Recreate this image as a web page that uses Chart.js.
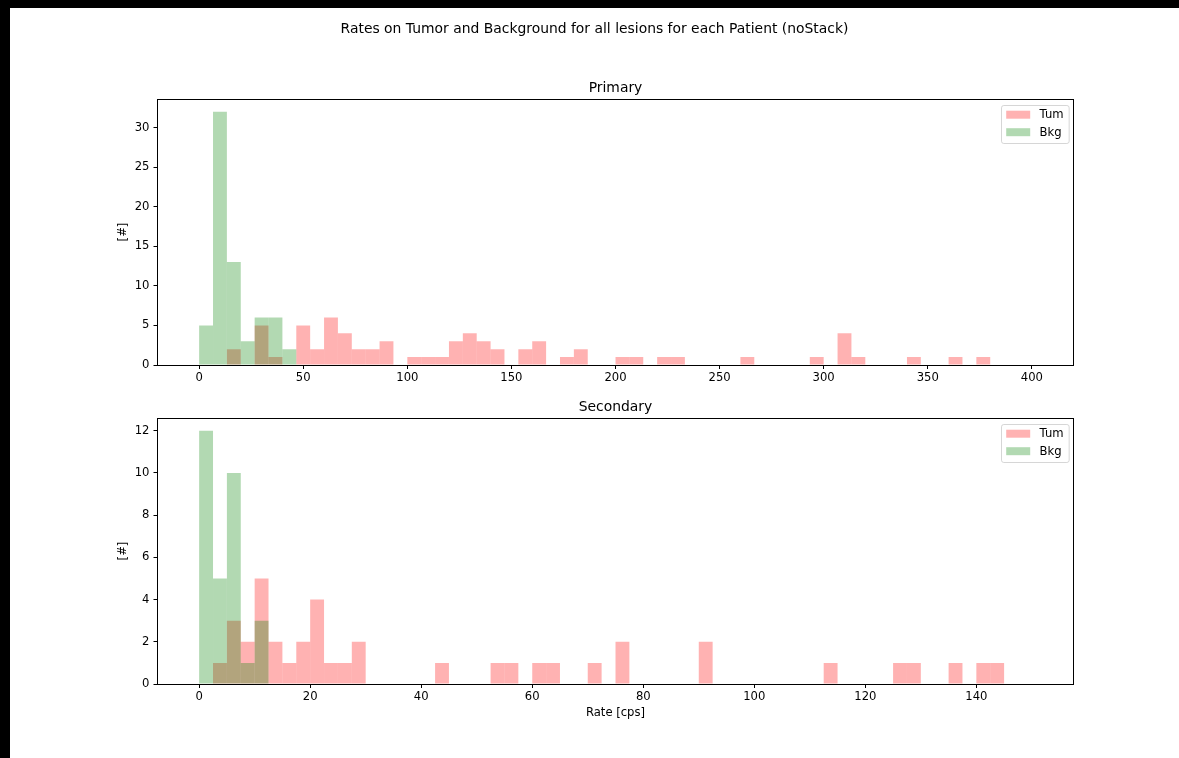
<!DOCTYPE html>
<html>
<head>
<meta charset="utf-8">
<title>Rates on Tumor and Background</title>
<script src="https://cdn.jsdelivr.net/npm/chart.js@4.4.0/dist/chart.umd.min.js"></script>
<style>
  html, body { margin: 0; padding: 0; background: #000; width: 1179px; height: 758px; overflow: hidden; }
  #sheet { position: absolute; left: 10px; top: 8px; right: 0; bottom: 0; background: #fff; }
  canvas { position: absolute; left: 0; }
  #primary { top: 0; }
  #secondary { top: 395px; }
</style>
</head>
<body>
<div id="sheet"></div>
<canvas id="primary" width="1179" height="395"></canvas>
<canvas id="secondary" width="1179" height="363"></canvas>
<script>
// ---- text ----
const figureTitle = 'Rates on Tumor and Background for all lesions for each Patient (noStack)';
const primaryTitle = 'Primary';
const secondaryTitle = 'Secondary';
const seriesNames = ['Tum', 'Bkg'];
const rateLabel = 'Rate [cps]';
const countLabel = '[#]';

// ---- histogram bins: 60 equal-width bins over each range ----
const binCount = 60;
const primaryRange = [0, 400];
const secondaryRange = [0, 150];

// ---- counts per bin, primary lesions ----
const primaryTum = [
  0, 0, 2, 0, 5, 1, 0, 5, 2, 6,
  4, 2, 2, 3, 0, 1, 1, 1, 3, 4,
  3, 2, 0, 2, 3, 0, 1, 2, 0, 0,
  1, 1, 0, 1, 1, 0, 0, 0, 0, 1,
  0, 0, 0, 0, 1, 0, 4, 1, 0, 0,
  0, 1, 0, 0, 1, 0, 1, 0, 0, 0
];
const primaryBkg = [
  5, 32, 13, 3, 6, 6, 2, 0, 0, 0,
  0, 0, 0, 0, 0, 0, 0, 0, 0, 0,
  0, 0, 0, 0, 0, 0, 0, 0, 0, 0,
  0, 0, 0, 0, 0, 0, 0, 0, 0, 0,
  0, 0, 0, 0, 0, 0, 0, 0, 0, 0,
  0, 0, 0, 0, 0, 0, 0, 0, 0, 0
];

// ---- counts per bin, secondary lesions ----
const secondaryTum = [
  0, 1, 3, 2, 5, 2, 1, 2, 4, 1,
  1, 2, 0, 0, 0, 0, 0, 1, 0, 0,
  0, 1, 1, 0, 1, 1, 0, 0, 1, 0,
  2, 0, 0, 0, 0, 0, 2, 0, 0, 0,
  0, 0, 0, 0, 0, 1, 0, 0, 0, 0,
  1, 1, 0, 0, 1, 0, 1, 1, 0, 0
];
const secondaryBkg = [
  12, 5, 10, 1, 3, 0, 0, 0, 0, 0,
  0, 0, 0, 0, 0, 0, 0, 0, 0, 0,
  0, 0, 0, 0, 0, 0, 0, 0, 0, 0,
  0, 0, 0, 0, 0, 0, 0, 0, 0, 0,
  0, 0, 0, 0, 0, 0, 0, 0, 0, 0,
  0, 0, 0, 0, 0, 0, 0, 0, 0, 0
];

// ---- tick labels ----
const primaryXTicks = [0, 50, 100, 150, 200, 250, 300, 350, 400];
const primaryYTicks = [0, 5, 10, 15, 20, 25, 30];
const secondaryXTicks = [0, 20, 40, 60, 80, 100, 120, 140];
const secondaryYTicks = [0, 2, 4, 6, 8, 10, 12];

// ---- styling ----
const FONT = 'DejaVu Sans';
const TICK_SIZE = 11.6;
const TITLE_SIZE = 13.9;
const TUM_COLOR = 'rgba(255, 0, 0, 0.3)';
const BKG_COLOR = 'rgba(0, 128, 0, 0.3)';

Chart.defaults.font.family = FONT;
Chart.defaults.color = '#000';

function binCenters([lo, hi]) {
  const w = (hi - lo) / binCount;
  return Array.from({ length: binCount }, (_, i) => lo + (i + 0.5) * w);
}

function histDataset(label, counts, range, color, order) {
  const centers = binCenters(range);
  return {
    label,
    data: counts.map((c, i) => ({ x: centers[i], y: c })),
    backgroundColor: color,
    borderWidth: 0,
    inflateAmount: 0,
    barPercentage: 1,
    categoryPercentage: 1,
    grouped: false,
    order
  };
}

// thin black box around the plotting area
const axesFrame = {
  id: 'axesFrame',
  afterDatasetsDraw(chart) {
    const { ctx, chartArea: a } = chart;
    const l = Math.floor(a.left) + 0.5, r = Math.floor(a.right) + 0.5;
    const t = Math.floor(a.top) + 0.5, b = Math.floor(a.bottom) + 0.5;
    ctx.save();
    ctx.strokeStyle = '#000';
    ctx.lineWidth = 1;
    ctx.strokeRect(l, t, r - l, b - t);
    ctx.restore();
  }
};

// framed legend in the upper-right corner of the plotting area
const cornerLegend = {
  id: 'cornerLegend',
  afterDraw(chart) {
    const { ctx, chartArea: a } = chart;
    const sets = chart.data.datasets;
    ctx.save();
    ctx.font = `${TICK_SIZE}px "${FONT}"`;
    const textW = Math.max(...sets.map(d => ctx.measureText(d.label).width));
    const padL = 4.7, handleW = 24, handleH = 8, gap = 9.4, padR = 5.6;
    const firstRow = 9.2, rowStep = 17.5, h = 38;
    const w = padL + handleW + gap + textW + padR;
    const x0 = Math.round(a.right - 4.5 - w) + 0.5;
    const y0 = Math.round(a.top + 6) + 0.5;
    const rad = 2.3;
    ctx.beginPath();
    ctx.roundRect(x0, y0, w, h, rad);
    ctx.fillStyle = 'rgba(255,255,255,0.8)';
    ctx.fill();
    ctx.strokeStyle = 'rgba(204,204,204,0.8)';
    ctx.lineWidth = 1;
    ctx.stroke();
    sets.forEach((d, i) => {
      const cy = y0 + firstRow + i * rowStep;
      ctx.fillStyle = d.backgroundColor;
      ctx.fillRect(x0 + padL, cy - handleH / 2, handleW, handleH);
      ctx.fillStyle = '#000';
      ctx.textBaseline = 'middle';
      ctx.textAlign = 'left';
      ctx.fillText(d.label, x0 + padL + handleW + gap, cy + 0.5);
    });
    ctx.restore();
  }
};

function tickSetter(values) {
  return scale => { scale.ticks = values.map(v => ({ value: v })); };
}

const tickGrid = {
  display: true,
  drawOnChartArea: false,
  drawTicks: true,
  tickLength: 4,
  color: '#000',
  lineWidth: 1
};

function buildChart(canvasId, opts) {
  return new Chart(document.getElementById(canvasId), {
    type: 'bar',
    data: {
      datasets: [
        histDataset(seriesNames[0], opts.tum, opts.range, TUM_COLOR, 1),
        histDataset(seriesNames[1], opts.bkg, opts.range, BKG_COLOR, 0)
      ]
    },
    options: {
      responsive: false,
      animation: false,
      events: [],
      layout: { padding: { left: 10, right: 0, top: 0, bottom: 0 } },
      plugins: {
        legend: { display: false },
        tooltip: { enabled: false },
        title: opts.title,
        subtitle: opts.subtitle || { display: false }
      },
      scales: {
        x: {
          type: 'linear',
          min: opts.xMin,
          max: opts.xMax,
          offset: false,
          grid: Object.assign({ offset: false }, tickGrid),
          border: { display: false },
          ticks: { font: { size: TICK_SIZE }, color: '#000', padding: 2, maxRotation: 0, autoSkip: false },
          afterBuildTicks: tickSetter(opts.xTicks),
          afterFit: s => { s.height = opts.xAxisHeight; },
          title: opts.xTitle || { display: false }
        },
        y: {
          type: 'linear',
          min: 0,
          max: opts.yMax,
          grid: tickGrid,
          border: { display: false },
          ticks: { font: { size: TICK_SIZE }, color: '#000', padding: 4 },
          afterBuildTicks: tickSetter(opts.yTicks),
          afterFit: s => { s.width = 147.5; },
          title: {
            display: true,
            text: countLabel,
            font: { size: TICK_SIZE },
            color: '#000',
            padding: { top: 106, bottom: 0 }
          }
        },
        // empty strip that keeps the right margin beside the plot
        rightMargin: {
          type: 'linear',
          axis: 'y',
          position: 'right',
          grid: { display: false },
          border: { display: false },
          ticks: { display: false },
          afterFit: s => { s.width = 105.5; }
        }
      }
    },
    plugins: [axesFrame, cornerLegend]
  });
}

buildChart('primary', {
  tum: primaryTum,
  bkg: primaryBkg,
  range: primaryRange,
  xMin: -20, xMax: 420, yMax: 33.6,
  xTicks: primaryXTicks, yTicks: primaryYTicks,
  xAxisHeight: 30,
  title: {
    display: true, text: figureTitle, color: '#000',
    font: { size: TITLE_SIZE, weight: 'normal' },
    padding: { top: 21.2, bottom: 0 }
  },
  subtitle: {
    display: true, fullSize: false, text: primaryTitle, color: '#000',
    font: { size: TITLE_SIZE, weight: 'normal' },
    padding: { top: 41.78, bottom: 2.66 }
  }
});

buildChart('secondary', {
  tum: secondaryTum,
  bkg: secondaryBkg,
  range: secondaryRange,
  xMin: -7.5, xMax: 157.5, yMax: 12.6,
  xTicks: secondaryXTicks, yTicks: secondaryYTicks,
  xAxisHeight: 74,
  xTitle: {
    display: true, text: rateLabel, color: '#000',
    font: { size: TICK_SIZE },
    padding: { top: 0, bottom: 37.84 }
  },
  title: {
    display: true, fullSize: false, text: secondaryTitle, color: '#000',
    font: { size: TITLE_SIZE, weight: 'normal' },
    padding: { top: 3.66, bottom: 2.66 }
  }
});
</script>
</body>
</html>
